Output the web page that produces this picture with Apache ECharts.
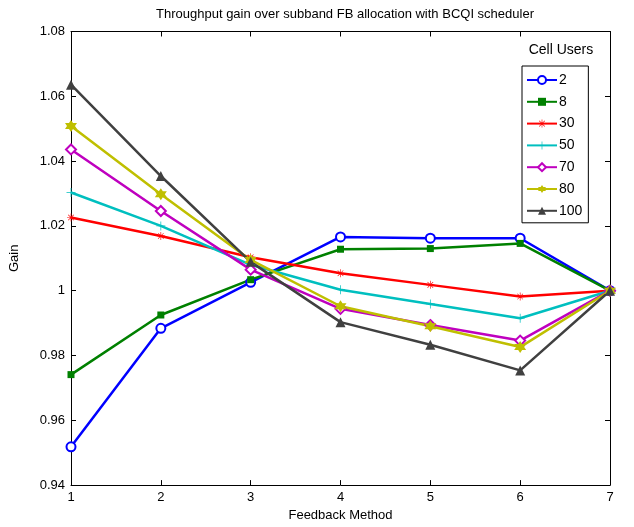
<!DOCTYPE html>
<html><head><meta charset="utf-8">
<script src="https://cdn.jsdelivr.net/npm/echarts@6/dist/echarts.min.js"></script>
<style>html,body{margin:0;padding:0;background:#fff}#c{width:634px;height:527px}</style>
</head><body><div id="c"></div>
<script>
var categories = ['1','2','3','4','5','6','7'];
var users2   = [0.9518, 0.9884, 1.0026, 1.0166, 1.0162, 1.0162, 1.0];
var users8   = [0.9741, 0.9925, 1.0034, 1.0128, 1.0130, 1.0146, 1.0];
var users30  = [1.0226, 1.0169, 1.0103, 1.0054, 1.0018, 0.9982, 1.0];
var users50  = [1.0303, 1.0200, 1.0080, 1.0003, 0.9959, 0.9915, 1.0];
var users70  = [1.0436, 1.0246, 1.0065, 0.9944, 0.9894, 0.9846, 1.0];
var users80  = [1.0508, 1.0298, 1.0095, 0.9952, 0.9890, 0.9826, 1.0];
var users100 = [1.0636, 1.0354, 1.0089, 0.9903, 0.9833, 0.9754, 1.0];
var seriesNames = ['2','8','30','50','70','80','100'];
var yTicks = ['0.94','0.96','0.98','1','1.02','1.04','1.06','1.08'];

var plusPath = 'path://M-0.8,-10H0.8V10H-0.8Z M-10,-0.8H10V0.8H-10Z';
var starPath = 'path://M-0.8,-10H0.8V10H-0.8Z M-10,-0.8H10V0.8H-10Z M-7.6,-6.5L-6.5,-7.6L7.6,6.5L6.5,7.6Z M6.5,-7.6L7.6,-6.5L-6.5,7.6L-7.6,6.5Z';
var hexPath = 'path://M0,-10L2.89,-5L8.66,-5L5.77,0L8.66,5L2.89,5L0,10L-2.89,5L-8.66,5L-5.77,0L-8.66,-5L-2.89,-5Z';

var data = [users2, users8, users30, users50, users70, users80, users100];
var colors = ['#0000ff','#008000','#ff0000','#00bfbf','#bf00bf','#bfbf00','#404040'];
var symbols = ['emptyCircle','rect', starPath, plusPath, 'emptyDiamond', hexPath, 'triangle'];
var sizes = [9, 7, 8, 9, 10, 12, 10];

var font = '"Liberation Sans", Arial, sans-serif';
var chart = echarts.init(document.getElementById('c'), null, {renderer:'canvas'});
var series = data.map(function(d,i){
  return {
    name: seriesNames[i], type:'line', data:d, xAxisIndex:0, yAxisIndex:0,
    symbol: symbols[i], symbolSize: sizes[i], showAllSymbol:true,
    lineStyle:{color:colors[i], width:2.5},
    itemStyle:{color:colors[i], borderColor:colors[i], borderWidth: (symbols[i].indexOf('empty')===0?2:0)},
    emphasis:{disabled:true}, animation:false
  };
});
var tickStyle = {show:true, inside:true, length:5, lineStyle:{color:'#000', width:1}};
chart.setOption({
  animation:false,
  title:[
    {text:'Throughput gain over subband FB allocation with BCQI scheduler', left:340, top:3, textAlign:'center',
     textStyle:{fontFamily:font, fontSize:13, fontWeight:'normal', color:'#000'}},
    {text:'Cell Users', left:556, top:38, textAlign:'center',
     textStyle:{fontFamily:font, fontSize:14, fontWeight:'normal', color:'#000'}}
  ],
  legend:{
    data:seriesNames, orient:'vertical', left:522, top:66, width:86,
    padding:[7,6,5,4], itemGap:7.8, itemWidth:30, itemHeight:10,
    borderColor:'#000', borderWidth:1, backgroundColor:'#fff',
    textStyle:{fontFamily:font, fontSize:14, lineHeight:14, color:'#000', padding:[0,0,0,-3]}
  },
  grid:{left:70, right:24, top:31.5, bottom:40},
  xAxis:[
    {type:'category', data:categories, boundaryGap:false, position:'bottom',
     name:'Feedback Method', nameLocation:'middle', nameGap:21,
     nameTextStyle:{fontFamily:font, fontSize:13, color:'#000'},
     axisLine:{lineStyle:{color:'#000', width:1}}, axisTick:tickStyle,
     axisLabel:{fontFamily:font, fontSize:13, color:'#000', margin:6},
     splitLine:{show:false}},
    {type:'category', data:categories, boundaryGap:false, position:'top',
     axisLine:{lineStyle:{color:'#000', width:1}}, axisTick:tickStyle,
     axisLabel:{show:false}, splitLine:{show:false}}
  ],
  yAxis:[
    {type:'value', min:0.94, max:1.08, interval:0.02, position:'left',
     name:'Gain', nameLocation:'middle', nameGap:50, nameRotate:90,
     nameTextStyle:{fontFamily:font, fontSize:13, color:'#000'},
     axisLine:{show:true, lineStyle:{color:'#000', width:1}}, axisTick:tickStyle,
     axisLabel:{fontFamily:font, fontSize:13, color:'#000', margin:6,
       formatter:function(v){ var s = yTicks[Math.round((v-0.94)/0.02)]; return s===undefined? '' : s; }},
     splitLine:{show:false}},
    {type:'value', min:0.94, max:1.08, interval:0.02, position:'right',
     axisLine:{show:true, lineStyle:{color:'#000', width:1}}, axisTick:tickStyle,
     axisLabel:{show:false}, splitLine:{show:false}}
  ],
  series: series
});
</script></body></html>
